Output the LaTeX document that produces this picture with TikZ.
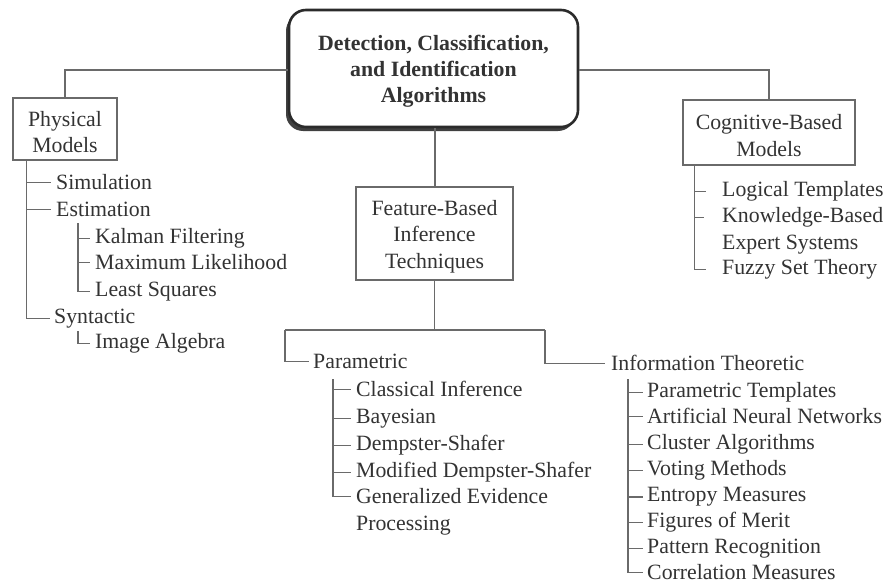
\documentclass[tikz,border=0pt]{standalone}
\usepackage{fontspec}
\setmainfont{Liberation Serif}
\usetikzlibrary{calc,shadows}
\definecolor{ink}{HTML}{333333}
\definecolor{wirecol}{HTML}{6A6A6A}
\definecolor{frame}{HTML}{2B2B2B}
\begin{document}
\begin{tikzpicture}[x=1pt,y=-1pt,
  every node/.style={text=ink, font=\fontsize{21.8}{26.5}\selectfont},
  item/.style={anchor=mid west, inner sep=0pt, yshift=-4.5pt},
  box/.style={draw=wirecol, line width=1.3pt, fill=white, inner sep=0pt},
  boxtext/.style={align=center, inner sep=0pt, yshift=-3pt},
  roottext/.style={align=center, inner sep=0pt, yshift=-3pt,
    font=\fontsize{21.8}{26}\selectfont\bfseries},
  rootbox/.style={draw=frame, line width=2.6pt, fill=white, inner sep=0pt,
    rounded corners=17pt,
    drop shadow={shadow xshift=-3pt, shadow yshift=-4pt, fill=black!75, opacity=1}},
  wire/.style={draw=wirecol, line width=1.1pt},
  ]
\fill[white] (0,0) rectangle (888,586);
\useasboundingbox (0,0) rectangle (888,586);

% boxes, each with its caption set as a centred label
\node[rootbox, minimum width=289, minimum height=117,
  label={[roottext]center:Detection, Classification,\\and Identification\\Algorithms}]
  (main) at (433.5,68.5) {};
\node[box, minimum width=104, minimum height=62,
  label={[boxtext]center:Physical\\Models}] (phys) at (65,129) {};
\node[box, minimum width=172, minimum height=65,
  label={[boxtext]center:Cognitive-Based\\Models}] (cog) at (769,132.5) {};
\node[box, minimum width=157, minimum height=93,
  label={[boxtext]center:Feature-Based\\Inference\\Techniques}] (feat) at (434.5,233.5) {};

% physical models branch
\node[item] (sim) at (56,183) {Simulation};
\node[item] (est) at (56,210) {Estimation};
\node[item] (kal) at (95,237) {Kalman Filtering};
\node[item] (mle) at (95,263) {Maximum Likelihood};
\node[item] (lsq) at (95,290) {Least Squares};
\node[item] (syn) at (54,317) {Syntactic};
\node[item] (img) at (95,342) {Image Algebra};

% cognitive branch
\node[item] (logic) at (722,190) {Logical Templates};
\node[item] (know) at (722,216) {Knowledge-Based};
\node[item] (expert) at (722,243) {Expert Systems};
\node[item] (fuzzy) at (722,268) {Fuzzy Set Theory};

% feature-based branch
\node[item] (par) at (313,362) {Parametric};
\node[item] (cinf) at (356,390) {Classical Inference};
\node[item] (bay) at (356,417) {Bayesian};
\node[item] (ds) at (356,444) {Dempster-Shafer};
\node[item] (mds) at (356,471) {Modified Dempster-Shafer};
\node[item] (gen) at (356,497) {Generalized Evidence};
\node[item] (proc) at (356,524) {Processing};

\node[item] (info) at (611,364) {Information Theoretic};
\node[item] (ptmp) at (647,391) {Parametric Templates};
\node[item] (ann) at (647,417) {Artificial Neural Networks};
\node[item] (clus) at (647,443) {Cluster Algorithms};
\node[item] (vote) at (647,469) {Voting Methods};
\node[item] (ent) at (647,495) {Entropy Measures};
\node[item] (fom) at (647,521) {Figures of Merit};
\node[item] (patt) at (647,547) {Pattern Recognition};
\node[item, text depth=0pt] (corr) at (647,573) {Correlation Measures};

% top-level connectors
\draw[wire] ([yshift=-1.5pt]main.west) -| (phys.north);
\draw[wire] ([yshift=-1.5pt]main.east) -| (cog.north);
\draw[wire] ([xshift=1.5pt]main.south) -- ([xshift=1.5pt]main.south |- feat.north);

% physical models tree
\coordinate (ptrunk) at ($(phys.south west)+(14,0)$);
\draw[wire] (ptrunk) |- ([xshift=-4pt]syn.west);
\draw[wire] (ptrunk |- sim.west) -- ([xshift=-5pt]sim.west);
\draw[wire] (ptrunk |- est.west) -- ([xshift=-5pt]est.west);
\coordinate (etrunk) at (78,223);
\draw[wire] (etrunk) |- ([xshift=-5pt]lsq.west);
\draw[wire] (etrunk |- kal.west) -- ([xshift=-5pt]kal.west);
\draw[wire] (etrunk |- mle.west) -- ([xshift=-5pt]mle.west);
\draw[wire] (78,331) |- ([xshift=-5pt]img.west);

% cognitive tree
\coordinate (ctrunk) at ($(cog.south west)+(12,0)$);
\draw[wire] (ctrunk) |- ([xshift=-16pt]fuzzy.west);
\draw[wire] (ctrunk |- logic.west) -- ([xshift=-16pt]logic.west);
\draw[wire] (ctrunk |- know.west) -- ([xshift=-18pt]know.west);

% feature-based tree
\coordinate (barL) at (285,330);
\coordinate (barR) at (545,330);
\draw[wire] (feat.south) -- (feat.south |- barL);
\draw[wire] (barL) -- (barR);
\draw[wire] (barL) |- ([xshift=-4pt]par.west);
\draw[wire] (barR) |- ([xshift=-6pt]info.west);

\coordinate (ptr) at (333,379);
\draw[wire] (ptr) |- ([xshift=-5pt]gen.west);
\foreach \n in {cinf,bay,ds,mds}
  \draw[wire] (ptr |- \n.west) -- ([xshift=-5pt]\n.west);

\coordinate (itr) at (628,379);
\draw[wire] (itr) |- ([xshift=-4pt]corr.west);
\foreach \n in {ptmp,ann,clus,vote,ent,fom,patt}
  \draw[wire] (itr |- \n.west) -- ([xshift=-4pt]\n.west);
\end{tikzpicture}
\end{document}
